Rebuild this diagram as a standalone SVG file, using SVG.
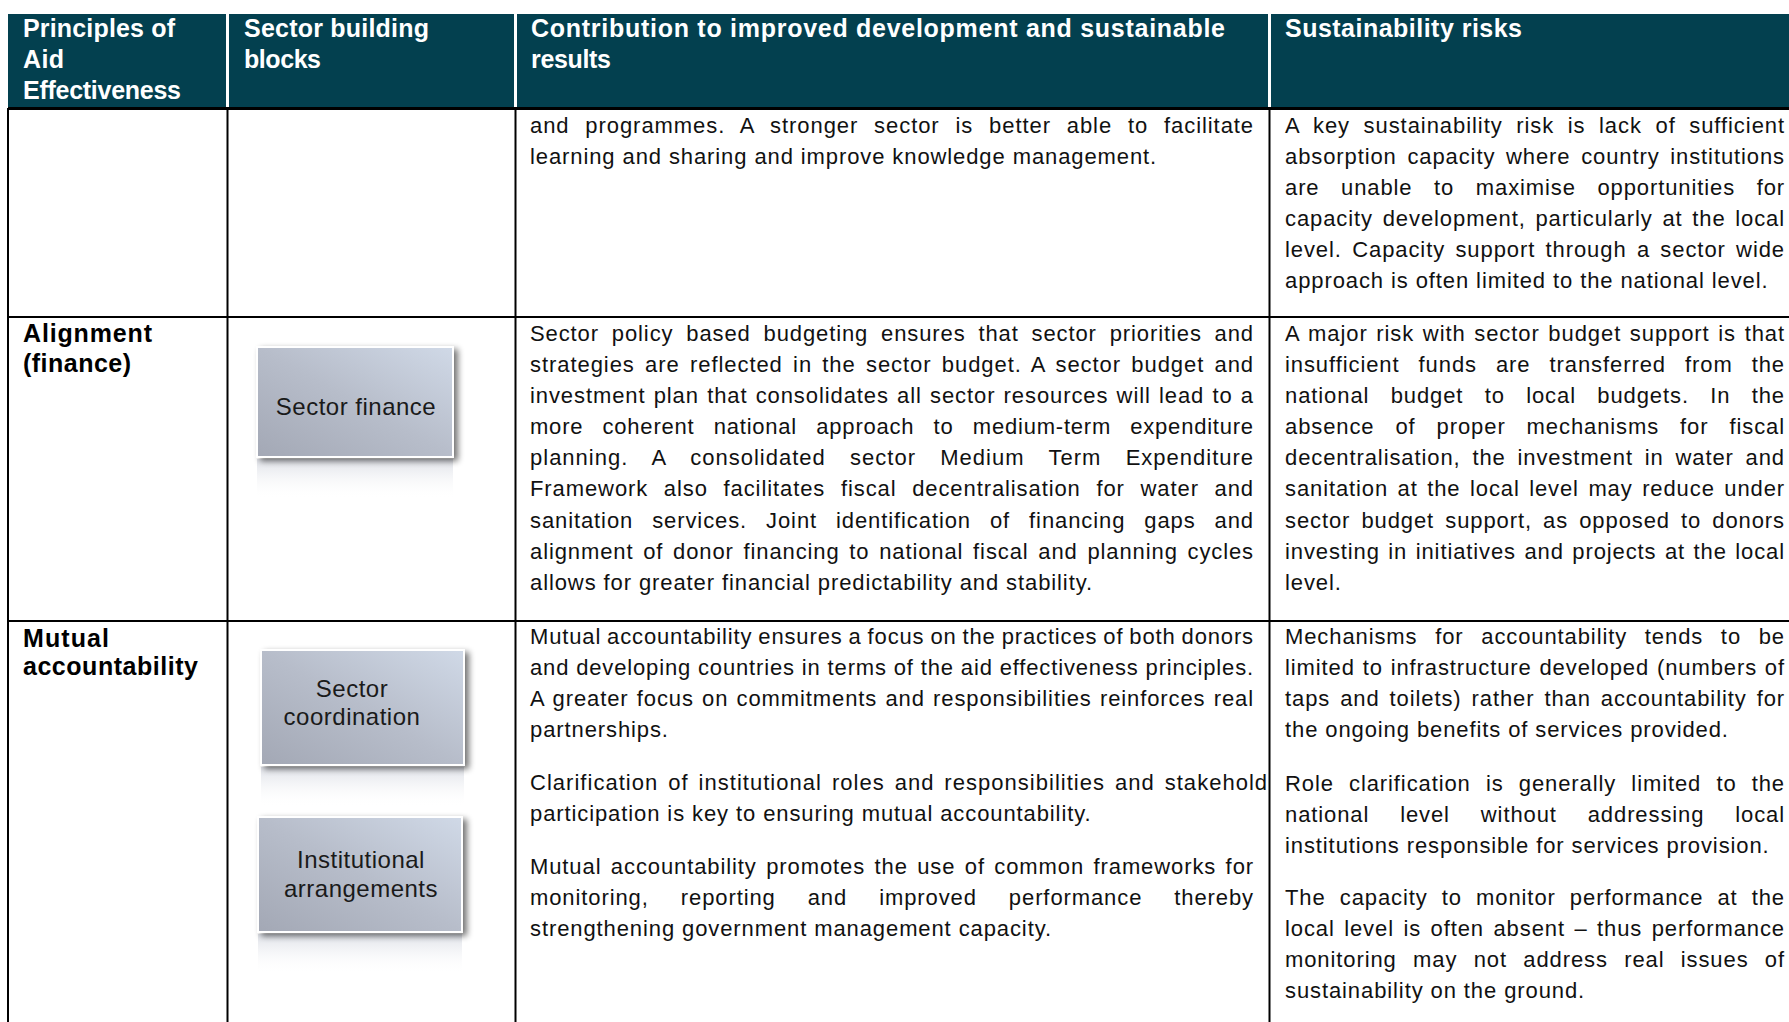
<svg xmlns="http://www.w3.org/2000/svg" width="1789" height="1022" viewBox="0 0 1789 1022">
<defs>
<style>
.hdr{font-family:"Liberation Sans",Arial,sans-serif;font-weight:bold;font-size:25px;fill:#ffffff}
.lbl{font-family:"Liberation Sans",Arial,sans-serif;font-weight:bold;font-size:25px;fill:#000000}
.body{font-family:"Liberation Sans",Arial,sans-serif;font-size:22px;fill:#111111;letter-spacing:0.9px}
.bx{font-family:"Liberation Sans",Arial,sans-serif;font-size:24px;fill:#1a1a1a;letter-spacing:0.5px;text-anchor:middle}
.grid{stroke:#000000;stroke-width:2;fill:none}
.hsep{stroke:#ffffff;stroke-width:3}
.box{fill:url(#boxGrad);stroke:#ffffff;stroke-width:2;filter:url(#shadow)}
.refl{fill:url(#reflGrad)}
</style>
<linearGradient id="boxGrad" x1="1" y1="0" x2="0" y2="1">
<stop offset="0" stop-color="#d0d9e7"/>
<stop offset="0.5" stop-color="#b7bdca"/>
<stop offset="1" stop-color="#a3a8b5"/>
</linearGradient>
<linearGradient id="reflGrad" x1="0" y1="0" x2="0" y2="1">
<stop offset="0" stop-color="#dcdfe6" stop-opacity="0.95"/>
<stop offset="1" stop-color="#ffffff" stop-opacity="0"/>
</linearGradient>
<filter id="shadow" x="-10%" y="-10%" width="130%" height="130%">
<feGaussianBlur in="SourceAlpha" stdDeviation="3"/>
<feOffset dx="4" dy="3" result="b"/>
<feComponentTransfer><feFuncA type="linear" slope="0.55"/></feComponentTransfer>
<feMerge><feMergeNode/><feMergeNode in="SourceGraphic"/></feMerge>
</filter>
</defs>
<rect x="0" y="0" width="1789" height="1022" fill="#ffffff"/>

<g id="header">
<rect x="8" y="14" width="1781" height="94" fill="#03404f"/>
<line class="hsep" x1="227.5" y1="14" x2="227.5" y2="107"/>
<line class="hsep" x1="515.5" y1="14" x2="515.5" y2="107"/>
<line class="hsep" x1="1269.5" y1="14" x2="1269.5" y2="107"/>
<text class="hdr" x="23" y="37" textLength="152" lengthAdjust="spacing">Principles of</text>
<text class="hdr" x="23" y="68" textLength="41" lengthAdjust="spacing">Aid</text>
<text class="hdr" x="23" y="99" textLength="158" lengthAdjust="spacing">Effectiveness</text>
<text class="hdr" x="244" y="37" textLength="185" lengthAdjust="spacing">Sector building</text>
<text class="hdr" x="244" y="68" textLength="77" lengthAdjust="spacing">blocks</text>
<text class="hdr" x="531" y="37" textLength="694" lengthAdjust="spacing">Contribution to improved development and sustainable</text>
<text class="hdr" x="531" y="68" textLength="80" lengthAdjust="spacing">results</text>
<text class="hdr" x="1285" y="37" textLength="237" lengthAdjust="spacing">Sustainability risks</text>
</g>

<g id="grid">
<line x1="8" y1="108.5" x2="1789" y2="108.5" stroke="#000" stroke-width="3"/>
<line class="grid" x1="8" y1="317" x2="1789" y2="317"/>
<line class="grid" x1="8" y1="621" x2="1789" y2="621"/>
<line class="grid" x1="8" y1="108" x2="8" y2="1022"/>
<line class="grid" x1="227.5" y1="108" x2="227.5" y2="1022"/>
<line class="grid" x1="515.5" y1="108" x2="515.5" y2="1022"/>
<line class="grid" x1="1269.5" y1="108" x2="1269.5" y2="1022"/>
</g>

<g id="row-capacity">
<g id="row1-contribution">
<text class="body" x="530" y="133" textLength="724" lengthAdjust="spacing" word-spacing="8.8">and programmes.  A stronger sector is better able to facilitate</text>
<text class="body" x="530" y="164">learning and sharing and improve knowledge management.</text>
</g>
<g id="row1-risks">
<text class="body" x="1285" y="133" textLength="500" lengthAdjust="spacing" word-spacing="6.5">A key sustainability risk is lack of sufficient</text>
<text class="body" x="1285" y="164" textLength="500" lengthAdjust="spacing" word-spacing="3.7">absorption capacity where country institutions</text>
<text class="body" x="1285" y="195" textLength="500" lengthAdjust="spacing" word-spacing="14.6">are unable to maximise opportunities for</text>
<text class="body" x="1285" y="226" textLength="500" lengthAdjust="spacing" word-spacing="2.6">capacity development, particularly at the local</text>
<text class="body" x="1285" y="257" textLength="500" lengthAdjust="spacing" word-spacing="3.3">level.  Capacity support through a sector wide</text>
<text class="body" x="1285" y="288">approach is often limited to the national level.</text>
</g>
</g>

<g id="row-alignment">
<text class="lbl" x="23" y="342" textLength="129" lengthAdjust="spacing">Alignment</text>
<text class="lbl" x="23" y="372" textLength="108" lengthAdjust="spacing">(finance)</text>
<g id="row2-contribution">
<text class="body" x="530" y="341" textLength="724" lengthAdjust="spacing" word-spacing="5.8">Sector policy based budgeting ensures that sector priorities and</text>
<text class="body" x="530" y="372" textLength="724" lengthAdjust="spacing" word-spacing="3.2">strategies are reflected in the sector budget.  A sector budget and</text>
<text class="body" x="530" y="403" textLength="724" lengthAdjust="spacing" word-spacing="1.2">investment plan that consolidates all sector resources will lead to a</text>
<text class="body" x="530" y="434" textLength="724" lengthAdjust="spacing" word-spacing="12.4">more coherent national approach to medium-term expenditure</text>
<text class="body" x="530" y="465" textLength="724" lengthAdjust="spacing" word-spacing="17.2">planning.   A consolidated sector Medium Term Expenditure</text>
<text class="body" x="530" y="496" textLength="724" lengthAdjust="spacing" word-spacing="8.7">Framework also facilitates fiscal decentralisation for water and</text>
<text class="body" x="530" y="528" textLength="724" lengthAdjust="spacing" word-spacing="12">sanitation services. Joint identification of financing gaps and</text>
<text class="body" x="530" y="559" textLength="724" lengthAdjust="spacing" word-spacing="2.7">alignment of donor financing to national fiscal and planning cycles</text>
<text class="body" x="530" y="590">allows for greater financial predictability and stability.</text>
</g>
<g id="row2-risks">
<text class="body" x="1285" y="341" textLength="500" lengthAdjust="spacing" word-spacing="1.6">A major risk with sector budget support is that</text>
<text class="body" x="1285" y="372" textLength="500" lengthAdjust="spacing" word-spacing="12">insufficient funds are transferred from the</text>
<text class="body" x="1285" y="403" textLength="500" lengthAdjust="spacing" word-spacing="14.3">national budget to local budgets. In the</text>
<text class="body" x="1285" y="434" textLength="500" lengthAdjust="spacing" word-spacing="14">absence of proper mechanisms for fiscal</text>
<text class="body" x="1285" y="465" textLength="500" lengthAdjust="spacing" word-spacing="4.8">decentralisation, the investment in water and</text>
<text class="body" x="1285" y="496" textLength="500" lengthAdjust="spacing" word-spacing="2.5">sanitation at the local level may reduce under</text>
<text class="body" x="1285" y="528" textLength="500" lengthAdjust="spacing" word-spacing="4.1">sector budget support, as opposed to donors</text>
<text class="body" x="1285" y="559" textLength="500" lengthAdjust="spacing" word-spacing="1.5">investing in initiatives and projects at the local</text>
<text class="body" x="1285" y="590">level.</text>
</g>
</g>

<g id="node-sector-finance">
<rect class="refl" x="257" y="459" width="196" height="40"/>
<rect class="box" x="257" y="347" width="196" height="110"/>
<text class="bx" x="356" y="415">Sector finance</text>
</g>

<g id="row-mutual">
<text class="lbl" x="23" y="647" textLength="86" lengthAdjust="spacing">Mutual</text>
<text class="lbl" x="23" y="675" textLength="175" lengthAdjust="spacing">accountability</text>
<g id="row3-contribution">
<text class="body" x="530" y="644" textLength="724" lengthAdjust="spacing" word-spacing="-1">Mutual accountability ensures a focus on the practices of both donors</text>
<text class="body" x="530" y="675" textLength="724" lengthAdjust="spacing">and developing countries in terms of the aid effectiveness principles.</text>
<text class="body" x="530" y="706" textLength="724" lengthAdjust="spacing" word-spacing="1.2">A greater focus on commitments and responsibilities reinforces real</text>
<text class="body" x="530" y="737">partnerships.</text>
<text class="body" x="530" y="790" textLength="738" lengthAdjust="spacing" word-spacing="2.8">Clarification of institutional roles and responsibilities and stakehold</text>
<text class="body" x="530" y="821">participation is key to ensuring mutual accountability.</text>
<text class="body" x="530" y="874" textLength="724" lengthAdjust="spacing" word-spacing="2.4">Mutual accountability promotes the use of common frameworks for</text>
<text class="body" x="530" y="905" textLength="724" lengthAdjust="spacing" word-spacing="25">monitoring, reporting and improved performance thereby</text>
<text class="body" x="530" y="936">strengthening government management capacity.</text>
</g>
<g id="row3-risks">
<text class="body" x="1285" y="644" textLength="500" lengthAdjust="spacing" word-spacing="10.7">Mechanisms for accountability tends to be</text>
<text class="body" x="1285" y="675" textLength="500" lengthAdjust="spacing" word-spacing="0.8">limited to infrastructure developed (numbers of</text>
<text class="body" x="1285" y="706" textLength="500" lengthAdjust="spacing" word-spacing="3">taps and toilets) rather than accountability for</text>
<text class="body" x="1285" y="737">the ongoing benefits of services provided.</text>
<text class="body" x="1285" y="791" textLength="500" lengthAdjust="spacing" word-spacing="8.2">Role clarification is generally limited to the</text>
<text class="body" x="1285" y="822" textLength="500" lengthAdjust="spacing" word-spacing="23.9">national level without addressing local</text>
<text class="body" x="1285" y="853">institutions responsible for services provision.</text>
<text class="body" x="1285" y="905" textLength="500" lengthAdjust="spacing" word-spacing="7.1">The capacity to monitor performance at the</text>
<text class="body" x="1285" y="936" textLength="500" lengthAdjust="spacing" word-spacing="2.5">local level is often absent – thus performance</text>
<text class="body" x="1285" y="967" textLength="500" lengthAdjust="spacing" word-spacing="9.3">monitoring may not address real issues of</text>
<text class="body" x="1285" y="998">sustainability on the ground.</text>
</g>
</g>

<g id="node-sector-coordination">
<rect class="refl" x="261" y="767" width="203" height="40"/>
<rect class="box" x="261" y="650" width="203" height="115"/>
<text class="bx" x="352" y="697">Sector</text>
<text class="bx" x="352" y="725">coordination</text>
</g>

<g id="node-institutional-arrangements">
<rect class="refl" x="258" y="934" width="204" height="40"/>
<rect class="box" x="258" y="817" width="204" height="115"/>
<text class="bx" x="361" y="868">Institutional</text>
<text class="bx" x="361" y="897">arrangements</text>
</g>
</svg>
